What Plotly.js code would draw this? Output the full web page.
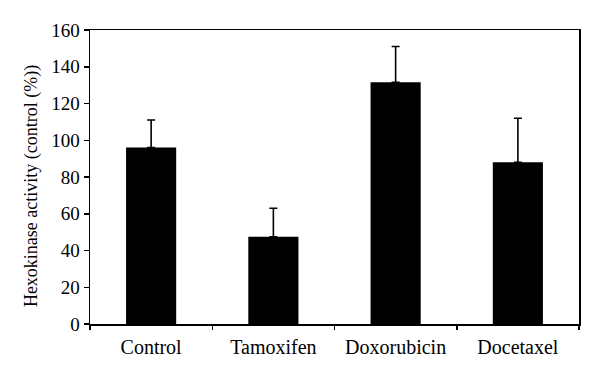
<!DOCTYPE html>
<html>
<head>
<meta charset="utf-8">
<script src="https://cdn.plot.ly/plotly-3.0.1.min.js"></script>
<style>html,body{margin:0;padding:0;background:#fff;}#chart{width:600px;height:378px;}</style>
</head>
<body>
<div id="chart"></div>
<script>
const categories = ["Control", "Tamoxifen", "Doxorubicin", "Docetaxel"];
const activity = [96, 47.5, 131.5, 88];
const errorPlus = [15, 15.5, 19.5, 24];
const yTicks = [0, 20, 40, 60, 80, 100, 120, 140, 160];
const yTitle = "Hexokinase activity (control (%))";

const fam = "Liberation Serif, Times New Roman, serif";

Plotly.newPlot("chart", [{
  type: "bar",
  x: categories,
  y: activity,
  marker: {color: "#000", line: {width: 0}},
  error_y: {type: "data", symmetric: false, array: errorPlus, arrayminus: [0,0,0,0],
            color: "#000", thickness: 1.6, width: 4},
  hoverinfo: "none"
}], {
  width: 600, height: 378,
  margin: {l: 90, r: 21, t: 30, b: 54},
  paper_bgcolor: "#fff", plot_bgcolor: "#fff",
  bargap: 0.59,
  showlegend: false,
  font: {family: fam, size: 18, color: "#000"},
  xaxis: {
    type: "category",
    showline: true, linecolor: "#000", linewidth: 1.5, mirror: true,
    ticks: "outside", tickson: "boundaries", ticklen: 4, tickwidth: 1.5, tickcolor: "#000",
    showgrid: false, zeroline: false,
    ticklabelstandoff: 4,
    tickfont: {family: fam, size: 20, color: "#000"}
  },
  yaxis: {
    range: [0, 160],
    tickvals: yTicks,
    showline: true, linecolor: "#000", linewidth: 1.5, mirror: true,
    ticks: "outside", ticklen: 5, tickwidth: 1.5, tickcolor: "#000",
    showgrid: false, zeroline: false,
    tickfont: {family: fam, size: 19, color: "#000"}
  },
  annotations: [{
    text: yTitle, textangle: -90,
    xref: "paper", yref: "paper", x: -0.118, y: 0.47,
    xanchor: "center", yanchor: "middle", showarrow: false,
    font: {family: fam, size: 18, color: "#000"}
  }]
}, {staticPlot: true});
</script>
</body>
</html>
